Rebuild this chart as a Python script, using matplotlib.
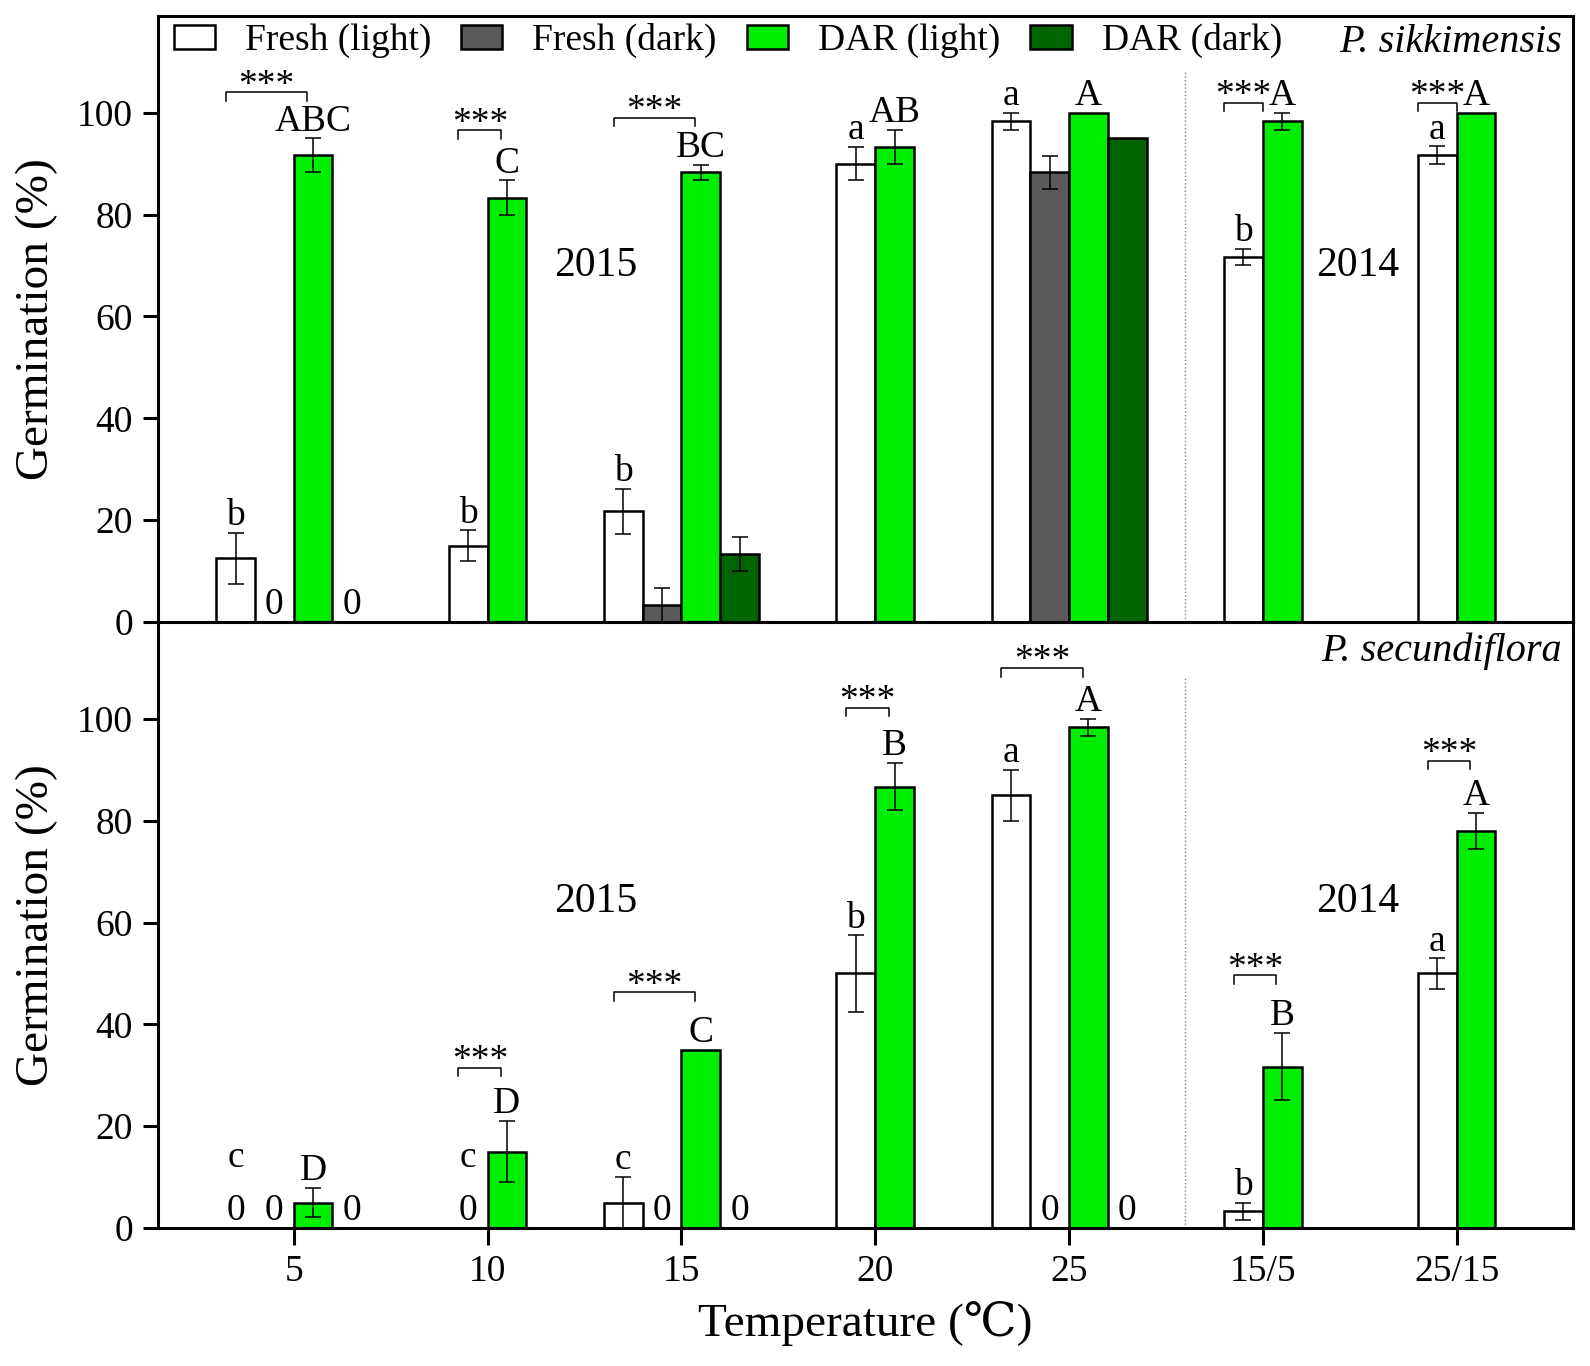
import matplotlib

matplotlib.use("Agg")
import matplotlib.pyplot as plt
import numpy as np
from matplotlib.patches import Patch

plt.rcParams["font.family"] = ["Liberation Serif", "DejaVu Serif", "DejaVu Sans"]

temperatures = ["5", "10", "15", "20", "25", "15/5", "25/15"]
series_names = ["Fresh (light)", "Fresh (dark)", "DAR (light)", "DAR (dark)"]

# P. sikkimensis (top panel); None = treatment not tested
sik_fresh_light = [12.5, 15.0, 21.7, 90.0, 98.3, 71.7, 91.7]
sik_fresh_light_se = [5.0, 3.0, 4.4, 3.3, 1.7, 1.6, 1.7]
sik_fresh_dark = [0, None, 3.3, None, 88.3, None, None]
sik_fresh_dark_se = [0, None, 3.3, None, 3.3, None, None]
sik_dar_light = [91.7, 83.3, 88.3, 93.3, 100.0, 98.3, 100.0]
sik_dar_light_se = [3.3, 3.4, 1.5, 3.3, 0, 1.7, 0]
sik_dar_dark = [0, None, 13.3, None, 95.0, None, None]
sik_dar_dark_se = [0, None, 3.3, None, 0, None, None]
sik_letters_fresh = ["b", "b", "b", "a", "a", "b", "a"]
sik_letters_dar = ["ABC", "C", "BC", "AB", "A", "A", "A"]
sik_sig_height = [104, 96.6, 99, None, None, 102, 102]

# P. secundiflora (bottom panel)
sec_fresh_light = [0, 0, 5.0, 50.0, 85.0, 3.3, 50.0]
sec_fresh_light_se = [0, 0, 5.0, 7.5, 5.0, 1.7, 3.0]
sec_fresh_dark = [0, None, 0, None, 0, None, None]
sec_fresh_dark_se = [0, None, 0, None, 0, None, None]
sec_dar_light = [5.0, 15.0, 35.0, 86.7, 98.3, 31.7, 78.0]
sec_dar_light_se = [2.9, 6.0, 0, 4.6, 1.7, 6.6, 3.6]
sec_dar_dark = [0, None, 0, None, 0, None, None]
sec_dar_dark_se = [0, None, 0, None, 0, None, None]
sec_letters_fresh = ["c", "c", "c", "b", "a", "b", "a"]
sec_letters_dar = ["D", "D", "C", "B", "A", "B", "A"]
sec_sig_height = [None, 31.5, 46.3, 102.2, 110, 49.7, 91.8]

COLORS = ["white", "#595959", "#00ee00", "#006400"]
BAR_W = 0.2
YMAX = 119
FS = 27
LW = 2.2


def slot_offsets(has_dark):
    if has_dark:
        return (-0.3, -0.1, 0.1, 0.3)
    return (-0.1, None, 0.1, None)


def draw_panel(ax, series, letters_fresh, letters_dar, sig_height, year_y, species, species_y):
    x = np.arange(len(temperatures))
    fresh_dark = series[1][0]
    offsets = [slot_offsets(v is not None) for v in fresh_dark]

    for si, (vals, errs) in enumerate(series):
        bx, bh, ex, ey, ee = [], [], [], [], []
        for gi, v in enumerate(vals):
            if v is None:
                continue
            pos = x[gi] + offsets[gi][si]
            if v == 0:
                ax.text(pos, 1.5, "0", ha="center", va="baseline", fontsize=FS)
                continue
            bx.append(pos)
            bh.append(v)
            if errs[gi]:
                ex.append(pos)
                ey.append(v)
                ee.append(errs[gi])
        ax.bar(bx, bh, width=BAR_W, color=COLORS[si], edgecolor="black",
               linewidth=1.8, zorder=2)
        if ex:
            ax.errorbar(ex, ey, yerr=ee, fmt="none", ecolor="black",
                        elinewidth=1.1, capsize=6, capthick=1.1, zorder=3)

    fresh_vals, fresh_errs = series[0]
    dar_vals, dar_errs = series[2]
    for gi in range(len(x)):
        fx = x[gi] + offsets[gi][0]
        dx = x[gi] + offsets[gi][2]
        fy = 12 if fresh_vals[gi] == 0 else fresh_vals[gi] + fresh_errs[gi] + 1.5
        ax.text(fx, fy, letters_fresh[gi], ha="center", va="baseline", fontsize=FS)
        dy = dar_vals[gi] + dar_errs[gi] + 1.5
        ax.text(dx, dy, letters_dar[gi], ha="center", va="baseline", fontsize=FS)
        h = sig_height[gi]
        if h is not None:
            if dy > h - 4:
                # letter sits beside the stars: keep bracket clear of it
                x0, x1 = fx - 0.1, dx - 0.1
            else:
                x0, x1 = fx - 0.05, dx - 0.03
            ax.plot([x0, x0, x1, x1], [h - 1.7, h, h, h - 1.7], color="black", lw=1.1)
            ax.text((x0 + x1) / 2, h - 0.5, "***", ha="center", va="baseline", fontsize=FS)

    ax.axvline(4.6, ymin=0, ymax=108 / YMAX, color="gray", ls=":", lw=1)
    ax.text(1.56, year_y, "2015", ha="center", va="center", fontsize=30)
    ax.text(5.49, year_y, "2014", ha="center", va="center", fontsize=30)
    ax.text(0.992, species_y, species, transform=ax.transAxes, ha="right",
            va="center", fontsize=29, style="italic")

    ax.set_xlim(-0.7, 6.6)
    ax.set_ylim(0, YMAX)
    ax.set_yticks(range(0, 101, 20))
    ax.set_xticks(x)
    ax.set_xticklabels(temperatures)
    for sp in ax.spines.values():
        sp.set_linewidth(LW)
    ax.tick_params(axis="both", direction="out", length=11, width=LW,
                   labelsize=FS, pad=7)


fig = plt.figure(figsize=(15.9, 13.66), dpi=100)
ax_top = fig.add_axes([0.0994, 0.5447, 0.8899, 0.4436])
ax_bot = fig.add_axes([0.0994, 0.1010, 0.8899, 0.4436])

draw_panel(
    ax_top,
    [(sik_fresh_light, sik_fresh_light_se), (sik_fresh_dark, sik_fresh_dark_se),
     (sik_dar_light, sik_dar_light_se), (sik_dar_dark, sik_dar_dark_se)],
    sik_letters_fresh, sik_letters_dar, sik_sig_height, 70, "P. sikkimensis", 0.957,
)
draw_panel(
    ax_bot,
    [(sec_fresh_light, sec_fresh_light_se), (sec_fresh_dark, sec_fresh_dark_se),
     (sec_dar_light, sec_dar_light_se), (sec_dar_dark, sec_dar_dark_se)],
    sec_letters_fresh, sec_letters_dar, sec_sig_height, 64, "P. secundiflora", 0.952,
)
ax_top.tick_params(axis="x", bottom=False, labelbottom=False)
ax_bot.tick_params(axis="x", length=12)

handles = [Patch(facecolor=c, edgecolor="black", linewidth=1.8) for c in COLORS]
ax_top.legend(handles, series_names, loc="center left", bbox_to_anchor=(0.011, 0.959),
              ncol=4, frameon=False, fontsize=FS, borderpad=0, borderaxespad=0,
              handlelength=1.1, handleheight=0.6, handletextpad=0.8, columnspacing=0.8)

fig.text(37 / 1590, 1 - 319 / 1366, "Germination (%)", rotation=90,
         ha="center", va="center", fontsize=34)
fig.text(37 / 1590, 1 - 925 / 1366, "Germination (%)", rotation=90,
         ha="center", va="center", fontsize=34)
fig.text(865 / 1590, 1 - 1323 / 1366, "Temperature (\u2103)", ha="center",
         va="center", fontsize=34)

fig.savefig("out.png", dpi=100)
